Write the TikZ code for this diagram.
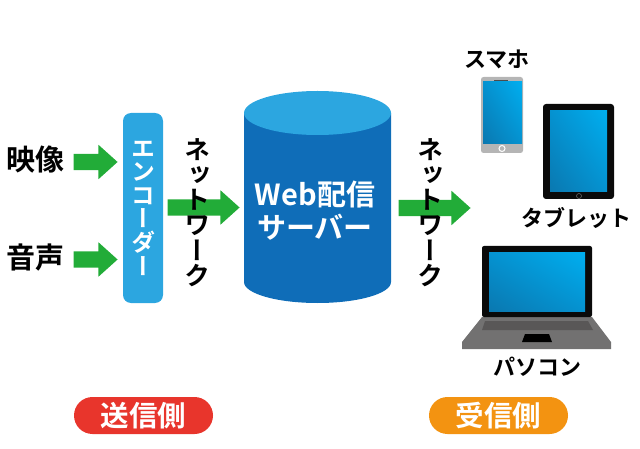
\documentclass[tikz,border=0pt]{standalone}
\usepackage{fontspec}
\usetikzlibrary{shapes.arrows,shadings}
\setmainfont{Noto Sans CJK JP}[BoldFont={Noto Sans CJK JP Bold}]
\newfontfamily\tatefont{Noto Sans CJK JP Bold}[RawFeature={+vert}]
\definecolor{barblue}{HTML}{2CA6E0}
\definecolor{bodyblue}{HTML}{0F6DB8}
\definecolor{arrowgreen}{HTML}{22AC38}
\definecolor{pillred}{HTML}{E8352C}
\definecolor{pillorange}{HTML}{F39311}
\definecolor{caseblack}{HTML}{0A0A0A}
\definecolor{phonegray}{HTML}{B5B5B5}
\definecolor{lapgray}{HTML}{727171}
\definecolor{keygray}{HTML}{595757}
\definecolor{glassdark}{HTML}{0A78B0}
\definecolor{glassmid}{HTML}{0592D0}
\definecolor{glasslight}{HTML}{00AEEF}
\tikzset{
  fatarrow/.style={single arrow,fill=arrowgreen,inner sep=0pt,text height=8pt,text depth=8pt,
    single arrow head extend=9pt,single arrow tip angle=84},
  label/.style={inner sep=0pt,font=\fontsize{#1}{#1}\bfseries},
  tate/.style={inner sep=0pt,align=center,font=\fontsize{#1}{25.2}\tatefont},
  pill/.style={rounded corners=18.5pt,minimum width=139pt,minimum height=37pt,inner sep=0pt,
    text=white,font=\fontsize{28.5}{28.5}\bfseries},
  glass/.style={lower left=glassdark,lower right=glassmid,upper left=glassmid,upper right=glasslight}
}
\begin{document}
\begin{tikzpicture}[x=1pt,y=-1pt]
  \useasboundingbox (0,0) rectangle (640,449);
  \node[label=29] (video) at (35,160) {映像};
  \node[label=29] (audio) at (35,258) {音声};
  \node[fatarrow,minimum height=44pt] (arrowa) at (91,162) {};
  \node[fatarrow,minimum height=44pt] (arrowb) at (91,259.5) {};
  \node[fill=barblue,rounded corners=8pt,minimum width=40pt,minimum height=190pt,inner sep=0pt,
    align=center,text=white,font=\fontsize{24}{23.6}\tatefont] (encoder) at (143,208) {エ\\ン\\コ\\ー\\ダ\\ー};
  \node[fatarrow,minimum height=72pt] (arrowc) at (199,207.5) {};
  \node[tate=26] (neta) at (197,212.5) {ネ\\ッ\\ト\\ワ\\ー\\ク};
  % server
  \fill[bodyblue] (244,113) -- (244,282) arc[start angle=180,end angle=360,x radius=73.5pt,y radius=21pt] -- (391,113) -- cycle;
  \fill[barblue] (317.5,113) ellipse[x radius=73.5pt,y radius=22pt];
  \node[align=center,inner sep=0pt,text=white,font=\fontsize{29}{33}\bfseries] (server) at (315,211) {Web配信\\サーバー};
  \node[fatarrow,minimum height=72pt] (arrowd) at (430,208) {};
  \node[tate=26] (netb) at (430,212.5) {ネ\\ッ\\ト\\ワ\\ー\\ク};
  % phone
  \node[label=22] (sumaho) at (497,59) {スマホ};
  \fill[phonegray,rounded corners=2.5pt] (481,77) rectangle (523,153);
  \shade[glass] (483,82) rectangle (522,144);
  \draw[white,line width=1pt] (502,148.5) circle[radius=3pt];
  \draw[black!70,line width=0.8pt] (494,80) -- (508,80);
  % tablet
  \fill[caseblack,rounded corners=3pt] (543,104) rectangle (614,199);
  \shade[glass] (550,111) rectangle (607,192);
  \draw[black!60!white,line width=0.6pt] (579,196) circle[radius=2.5pt];
  \node[label=22] (tablet) at (576.5,218) {タブレット};
  % laptop
  \fill[lapgray] (482,317) -- (592,317) -- (611,342) -- (611,349) -- (462,349) -- (462,342) -- cycle;
  \fill[keygray] (485,321) -- (588,321) -- (593,330) -- (482,330) -- cycle;
  \fill[black] (525,334) -- (549,334) -- (552,342) -- (522,342) -- cycle;
  \fill[caseblack,rounded corners=2pt] (482,246) rectangle (592,317);
  \shade[glass] (489,253) rectangle (585,311);
  \node[label=22] (pasokon) at (537,367) {パソコン};
  \node[pill,fill=pillred] (sender) at (143.5,415.5) {送信側};
  \node[pill,fill=pillorange] (receiver) at (498.5,415.5) {受信側};
\end{tikzpicture}
\end{document}
